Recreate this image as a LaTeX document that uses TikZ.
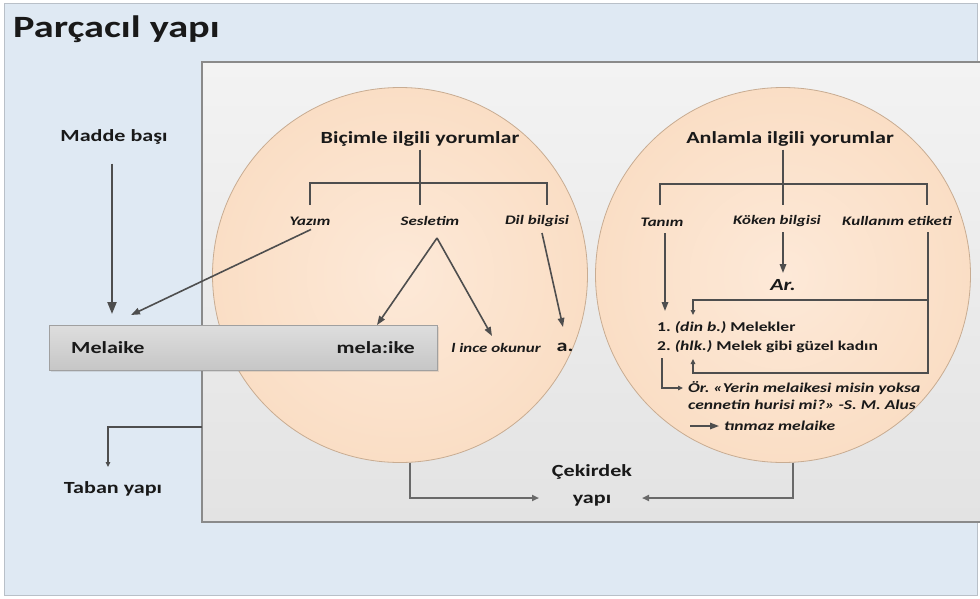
\documentclass[tikz,border=0pt]{standalone}
\usepackage{fontspec}
\setmainfont[FakeStretch=1.3]{Carlito}
\usetikzlibrary{arrows.meta,shadows,calc}
\frenchspacing
\definecolor{bgblue}{RGB}{223,233,243}
\definecolor{framecol}{RGB}{185,192,200}
\definecolor{inntop}{RGB}{243,243,243}
\definecolor{innbot}{RGB}{227,227,227}
\definecolor{innedge}{RGB}{138,138,138}
\definecolor{peachin}{RGB}{253,233,216}
\definecolor{peachout}{RGB}{250,222,197}
\definecolor{peachedge}{RGB}{200,172,146}
\definecolor{meltop}{RGB}{222,222,222}
\definecolor{melbot}{RGB}{198,198,198}
\definecolor{meledge}{RGB}{160,160,160}
\definecolor{txt}{RGB}{25,25,25}
\definecolor{lncol}{RGB}{78,78,78}
\definecolor{lncol2}{RGB}{105,105,105}
\begin{document}
\frenchspacing
\begin{tikzpicture}[x=1pt,y=-1pt,
 lab/.style={font=\bfseries\fontsize{17}{20}\selectfont,text=txt,inner sep=1pt},
 sublab/.style={font=\bfseries\itshape\fontsize{13}{15}\selectfont,text=txt,inner sep=1pt},
 deflab/.style={font=\bfseries\fontsize{13.5}{16}\selectfont,text=txt,inner sep=0pt,anchor=west},
 circ/.style={circle,minimum size=375pt,inner sep=0pt,inner color=peachin,outer color=peachout,draw=peachedge,line width=0.8pt},
 conn/.style={draw=lncol,line width=1.6pt},
 bigarr/.style={draw=lncol,line width=2.2pt,-{Triangle[length=12pt,width=9pt]}},
 midarr/.style={conn,-{Triangle[length=9pt,width=6.5pt]}},
 smarr/.style={draw=lncol,line width=1.2pt,-{Triangle[length=5pt,width=4.5pt]}},
 botarr/.style={draw=lncol2,line width=1.8pt,-{Triangle[length=7pt,width=6pt]}},
]
% background
\fill[white] (0,0) rectangle (980,598);
\useasboundingbox (0,0) rectangle (980,598);
\path[fill=bgblue,draw=framecol,line width=1pt] (4,3) rectangle (977,595);
% inner box
\path[top color=inntop,bottom color=innbot,draw=innedge,line width=2pt] (202,62) rectangle (995,522);
% title
\node[anchor=base west,font=\bfseries\fontsize{31}{36}\selectfont,text=txt,inner sep=0pt] (title) at (13,37) {Parçacıl yapı};
% circles
\node[circ] (lc) at (400,275) {};
\node[circ] (rc) at (783,275) {};
% Melaike box
\node[rectangle,minimum width=388pt,minimum height=45pt,top color=meltop,bottom color=melbot,draw=meledge,line width=1pt,
  drop shadow={shadow xshift=2pt,shadow yshift=-2pt,opacity=0.2}] (mel) at (243,347.5) {};
\node[lab,anchor=west] (melaike) at (70,348) {Melaike};
\node[lab,anchor=east] (melaike2) at (416,348) {mela:ike};
% left labels
\node[lab] (madde) at (114,137) {Madde başı};
\node[lab] (taban) at (113,489) {Taban yapı};
\node[lab,align=center,font=\bfseries\fontsize{17}{27}\selectfont] (cek) at (592,485) {Çekirdek\\yapı};
% left circle texts
\node[lab] (bicim) at (420,139) {Biçimle ilgili yorumlar};
\node[sublab] (yazim) at (310,221) {Yazım};
\node[sublab] (seslet) at (430,221) {Sesletim};
\node[sublab] (dilb) at (537,221) {Dil bilgisi};
\node[sublab] (ince) at (496,348) {l ince okunur};
\node[lab] (adot) at (565,347) {a.};
% right circle texts
\node[lab] (anlam) at (790,139) {Anlamla ilgili yorumlar};
\node[sublab] (tanim) at (662,222) {Tanım};
\node[sublab] (koken) at (777,221) {Köken bilgisi};
\node[sublab] (kullan) at (897,221) {Kullanım etiketi};
\node[lab,font=\bfseries\itshape\fontsize{17}{20}\selectfont] (ar) at (783,285) {Ar.};
\node[deflab] (def1) at (657,328) {1. \textit{(din b.)} Melekler};
\node[deflab] (def2) at (657,347) {2. \textit{(hlk.)} Melek gibi güzel kadın};
\node[deflab,font=\bfseries\itshape\fontsize{13.5}{16}\selectfont] (ex1) at (688,388) {Ör. «Yerin melaikesi misin yoksa};
\node[deflab,font=\bfseries\itshape\fontsize{13.5}{16}\selectfont] (ex2) at (688,405) {cennetin hurisi mi?» -S. M. Alus};
\node[deflab,font=\bfseries\itshape\fontsize{13.5}{16}\selectfont] (tinmaz) at (724,426) {tınmaz melaike};
% coordinates for connector ends
\coordinate (tb0) at (202,427);
\coordinate (ckl) at (539,498);
\coordinate (ckr) at (642,498);
% left side connectors
\draw[bigarr] (madde.south) ++(-2,18) -- (112,314);
\draw[midarr] (yazim.south) ++(1,3) -- (131,315);
\coordinate (sapex) at (437,238);
\draw[midarr] (sapex) -- (377,325);
\draw[midarr] (sapex) -- (492,336);
\draw[midarr] (542,233) -- (563,327);
\draw[smarr] (tb0) -| (108,467);
% left tree
\draw[conn] (bicim.south) ++(0,2) -- (420,205);
\draw[conn] (310,205) -- (310,183) -- (547,183) -- (547,205);
% right tree
\draw[conn] (anlam.south) ++(-7,2) -- (783,205);
\draw[conn] (660,205) -- (660,184) -- (927,184) -- (927,205);
\draw[midarr] (665,233) -- (665,311);
\draw[midarr] (783,232) -- (783,273);
\draw[smarr] (928,232) -- (928,373) -- (693,373) -- (693,359);
\draw[smarr] (928,300) -- (693,300) -- (693,315);
\draw[smarr] (662,358) |- (683,388);
\draw[midarr,line width=1.4pt] (690,426) -- (719,426);
% bottom connectors
\draw[botarr] (lc.-87) |- (ckl);
\draw[botarr] (rc.-87) |- (ckr);
\end{tikzpicture}
\end{document}
